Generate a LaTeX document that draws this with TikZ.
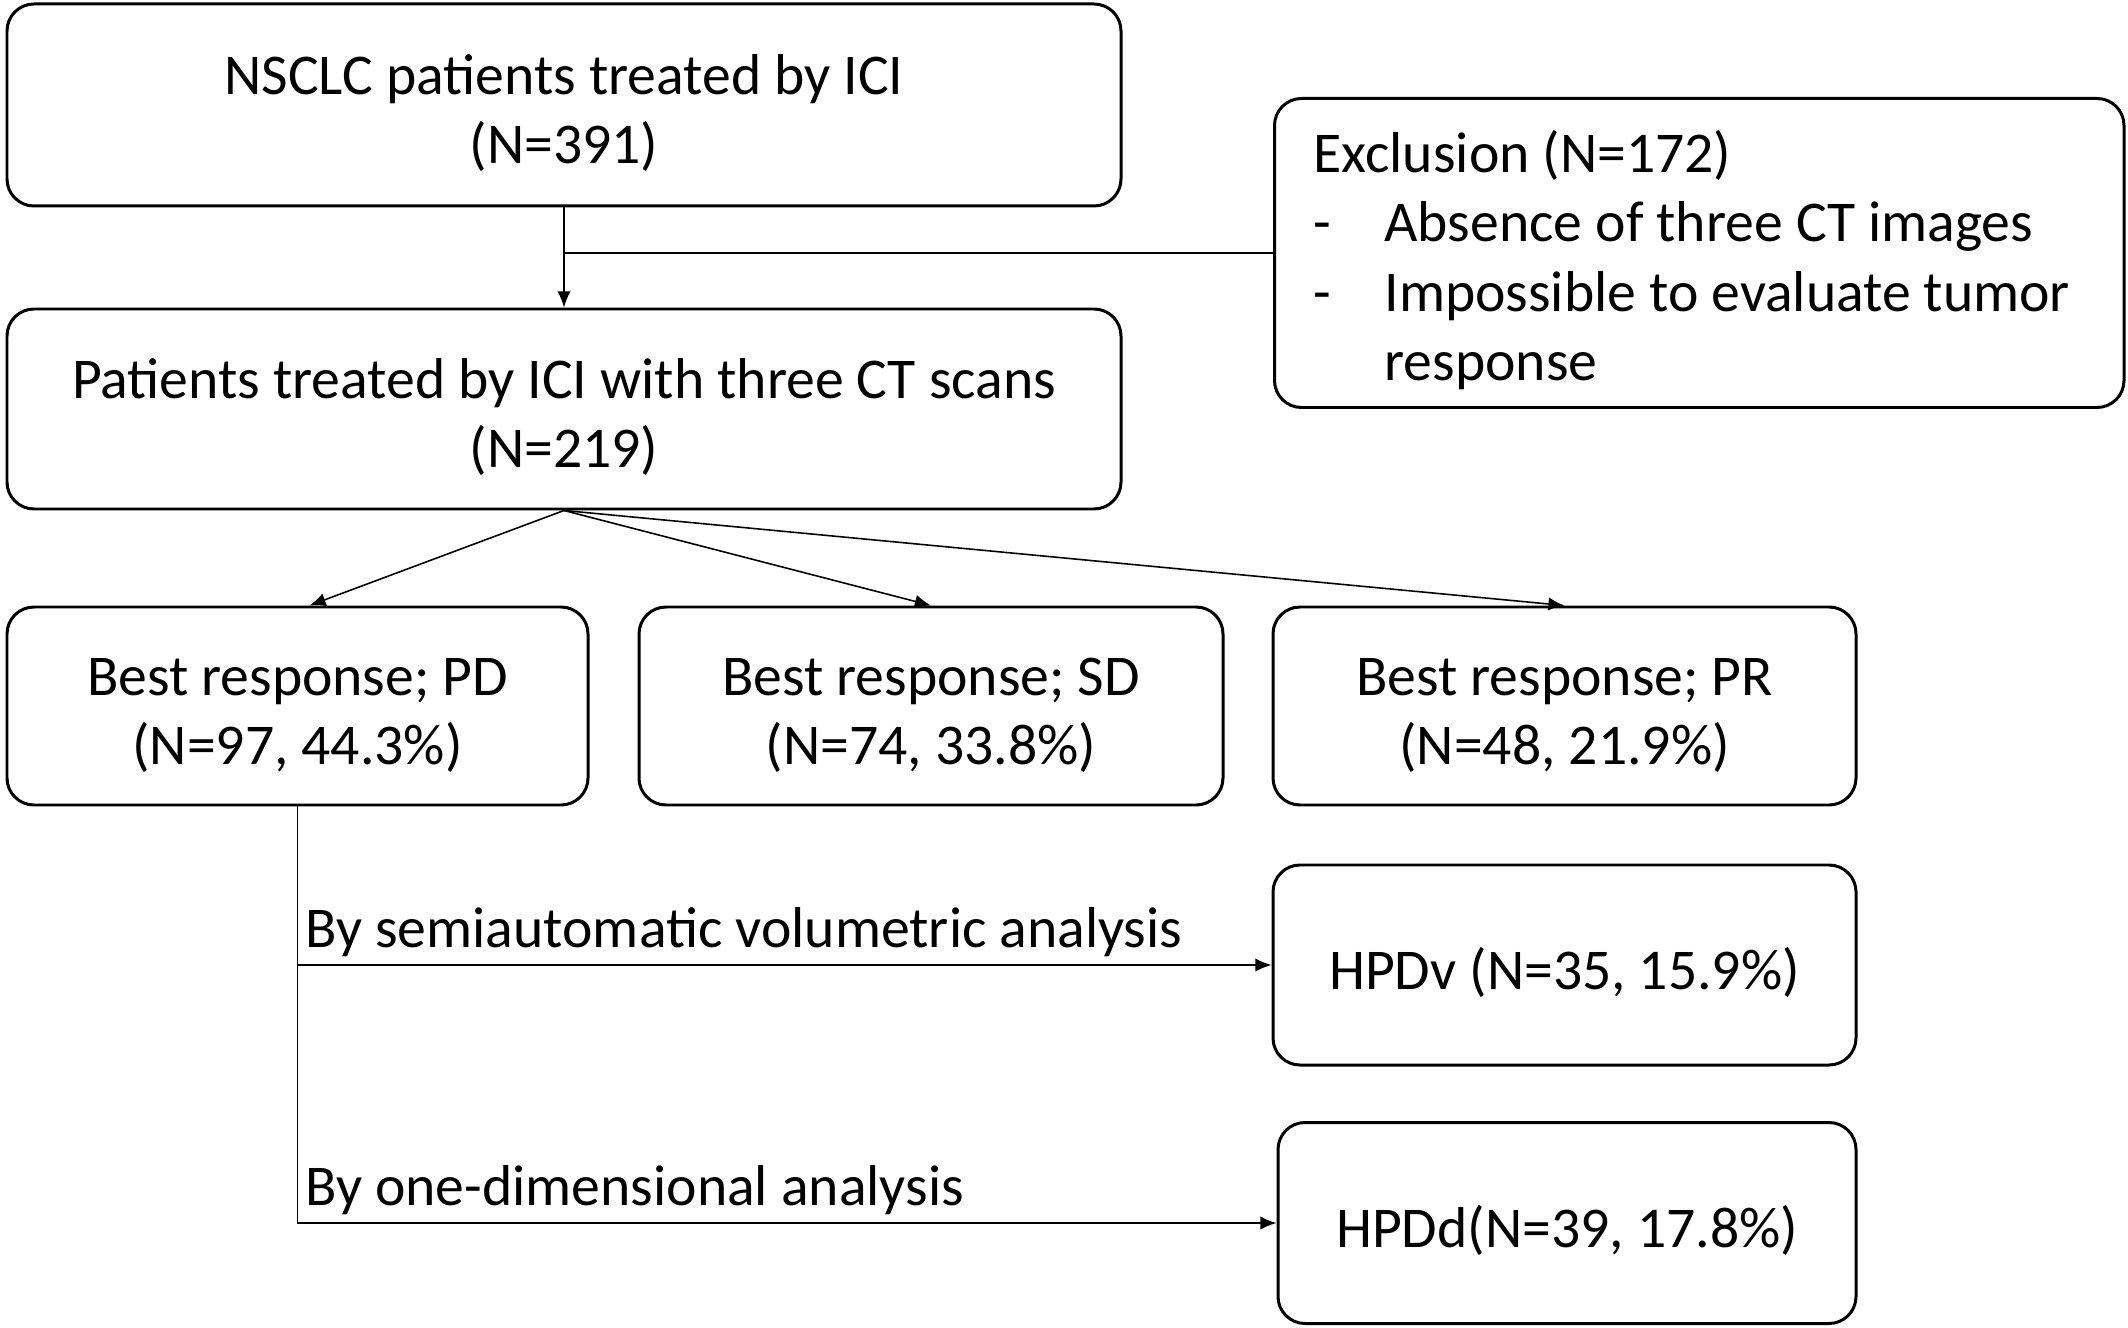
\documentclass[tikz,border=0pt]{standalone}
\usepackage{fontspec}
\setmainfont{Carlito}
\usetikzlibrary{arrows.meta}
\newcommand{\topgap}{\rule{0pt}{16pt}}
\newcommand{\dashitem}[1]{\mbox{\makebox[0.71cm][l]{-}#1}}
\begin{document}
\begin{tikzpicture}[x=0.01cm,y=-0.01cm,
        mybox/.style={draw,line width=0.85pt,rounded corners=0.27cm,
                      align=center,inner sep=0pt,
                      font=\fontsize{16.4pt}{19.8pt}\selectfont},
        myarrow/.style={line width=0.45pt,-{Latex[length=4.6pt,width=3.8pt]}},
        mylabel/.style={inner sep=2pt,font=\fontsize{16.4pt}{19.8pt}\selectfont}
    ]
    \useasboundingbox (0,0) rectangle (2128,1328);
    % boxes
    \node [mybox,minimum width=1114*0.01cm,minimum height=202*0.01cm] (nsclc) at (564,105)
        {\topgap NSCLC patients treated by ICI\\(N=391)};
    \node [mybox,minimum height=309*0.01cm,align=flush left,text width=7.71cm,
           inner xsep=0.39cm,anchor=west] (excl) at (1273,253)
        {\topgap Exclusion (N=172)\\
         \dashitem{Absence of three CT images}\\
         \dashitem{Impossible to evaluate tumor}\\
         \hspace*{0.71cm}response};
    \node [mybox,minimum width=1114*0.01cm,minimum height=200*0.01cm] (pts) at (564,409)
        {\topgap Patients treated by ICI with three CT scans\\(N=219)};
    \node [mybox,minimum width=581*0.01cm,minimum height=198*0.01cm] (pd) at (297.5,706)
        {\topgap Best response; PD\\(N=97, 44.3\%)};
    \node [mybox,minimum width=584*0.01cm,minimum height=198*0.01cm] (sd) at (931,706)
        {\topgap Best response; SD\\(N=74, 33.8\%)};
    \node [mybox,minimum width=583*0.01cm,minimum height=198*0.01cm] (pr) at (1564.5,706)
        {\topgap Best response; PR\\(N=48, 21.9\%)};
    \node [mybox,minimum width=583*0.01cm,minimum height=200*0.01cm] (hpdv) at (1564.5,965)
        {\topgap HPDv (N=35, 15.9\%)};
    \node [mybox,minimum width=578*0.01cm,minimum height=201*0.01cm] (hpdd) at (1567,1223)
        {\topgap HPDd(N=39, 17.8\%)};
    % connectors
    \draw [myarrow] (nsclc.south) -- (pts.north);
    \draw [line width=0.45pt] (excl.west) -- (excl.west -| nsclc.south);
    \draw [myarrow] (pts.south) -- ([xshift=12*0.01cm]pd.north);
    \draw [myarrow] (pts.south) -- (sd.north);
    \draw [myarrow] (pts.south) -- (pr.north);
    \draw [myarrow] (pd.south) |- node [mylabel,pos=0.5,anchor=south west]
        {By semiautomatic volumetric analysis} (hpdv.west);
    \draw [myarrow] (pd.south) |- node [mylabel,pos=0.5,anchor=south west]
        {By one-dimensional analysis} (hpdd.west);
\end{tikzpicture}
\end{document}
